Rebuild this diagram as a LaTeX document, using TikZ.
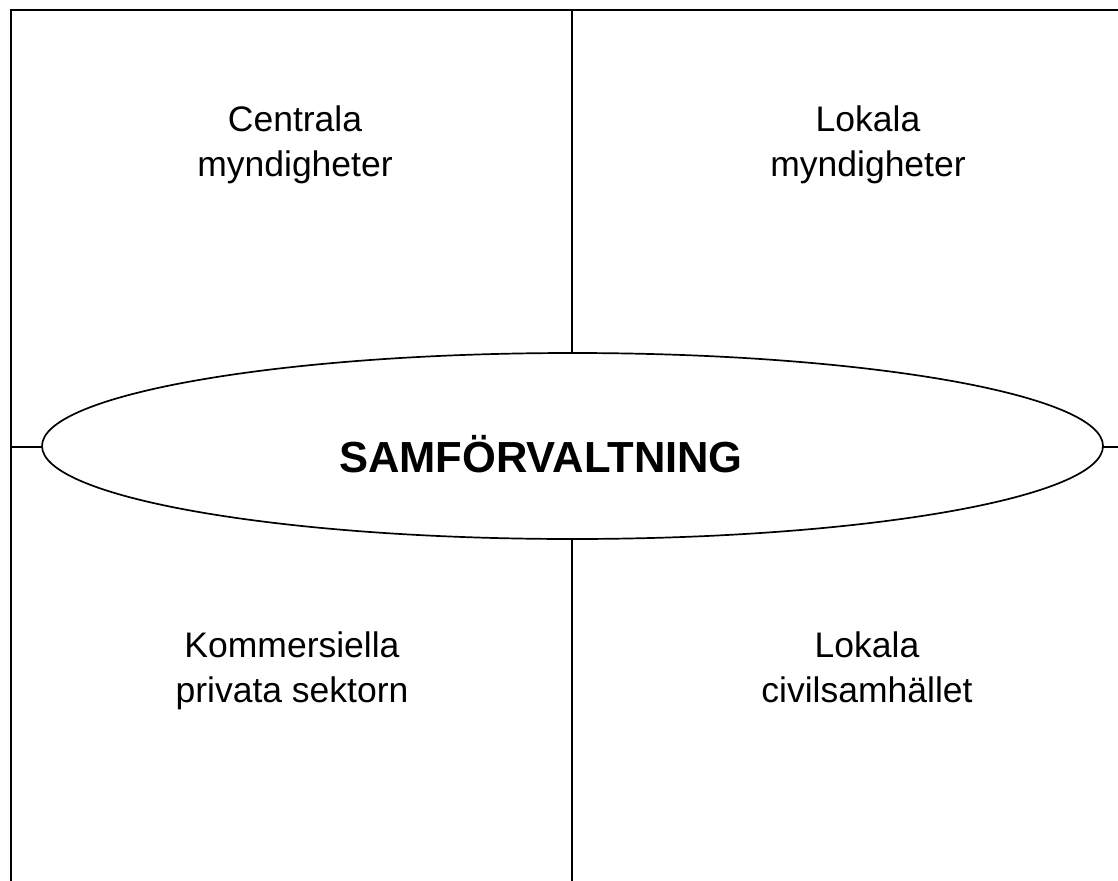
\documentclass[tikz,border=0pt]{standalone}
\usepackage{fontspec}
\setmainfont{Liberation Sans}
\usetikzlibrary{shapes.geometric}

\begin{document}
\begin{tikzpicture}[x=1pt,y=-1pt,line width=1.7pt,
  lab/.style={align=center,font=\fontsize{35.5}{45}\selectfont},
  core/.style={ellipse,draw,fill=white,minimum width=1061pt,minimum height=186pt,inner sep=0pt}]
 \useasboundingbox (0,0) rectangle (1118,880);
 \clip (0,0) rectangle (1118,880);
 % frame and cross
 \coordinate (tl) at (11,10);
 \coordinate (tr) at (1130,10);
 \coordinate (bl) at (11,890);
 \coordinate (tm) at (572,10);
 \coordinate (bm) at (572,890);
 \coordinate (ml) at (11,447);
 \coordinate (mr) at (1130,447);
 \draw (bl) -- (tl) -- (tr);
 \draw (tm) -- (bm);
 \draw (ml) -- (mr);
 % centre
 \node[core] (sam) at (572.5,446) {};
 \node[font=\fontsize{43.5}{50}\selectfont\bfseries] (samtxt) at (541,454) {SAMFÖRVALTNING};
 % quadrants
 \node[lab] (cm) at (295,145) {Centrala\\myndigheter};
 \node[lab] (lm) at (868,145) {Lokala\\myndigheter};
 \node[lab] (ks) at (292,671) {Kommersiella\\privata sektorn};
 \node[lab] (lc) at (867,667) {Lokala\\civilsamhället};
\end{tikzpicture}
\end{document}
